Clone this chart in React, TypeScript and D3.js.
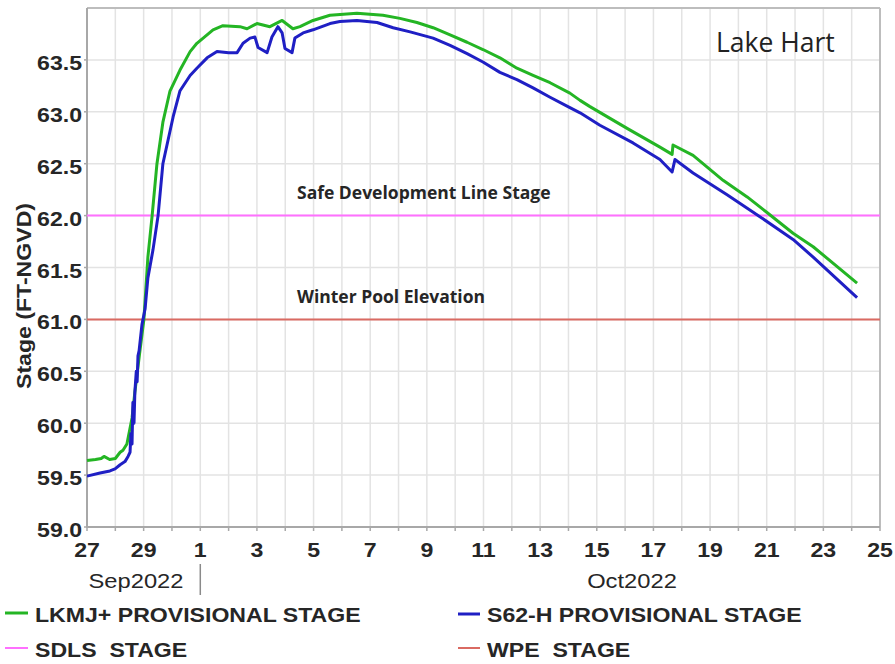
import React from "react";
import * as d3 from "d3";

// ---- Data (days since 2022-09-27 00:00, stage in FT-NGVD) ----
const lkmjDays = [0, 0.3, 0.5, 0.6, 0.8, 1.0, 1.17, 1.27, 1.41, 1.59, 1.69, 1.87, 2.01, 2.15, 2.3, 2.47, 2.68, 2.93, 3.28, 3.64, 3.88, 4.45, 4.8, 5.4, 5.65, 6.0, 6.46, 6.89, 7.27, 7.52, 7.98, 8.58, 9.53, 10.45, 11.05, 11.65, 12.22, 12.82, 13.42, 13.98, 14.58, 15.18, 15.75, 16.35, 17.05, 17.41, 17.76, 19.07, 20.23, 20.66, 20.69, 21.4, 22.46, 23.31, 24.01, 24.93, 25.64, 27.19];
const lkmjStage = [59.64, 59.65, 59.66, 59.68, 59.65, 59.66, 59.72, 59.74, 59.8, 60.05, 60.3, 60.7, 61.0, 61.6, 62.0, 62.5, 62.9, 63.2, 63.4, 63.58, 63.66, 63.79, 63.83, 63.82, 63.8, 63.85, 63.82, 63.88, 63.8, 63.82, 63.88, 63.93, 63.95, 63.93, 63.9, 63.86, 63.81, 63.74, 63.67, 63.6, 63.52, 63.42, 63.35, 63.28, 63.18, 63.11, 63.05, 62.84, 62.66, 62.59, 62.68, 62.58, 62.34, 62.18, 62.03, 61.83, 61.7, 61.35];

const s62Days = [0, 0.46, 0.81, 0.99, 1.17, 1.34, 1.45, 1.52, 1.55, 1.59, 1.62, 1.66, 1.69, 1.74, 1.77, 1.8, 1.84, 1.94, 2.05, 2.15, 2.33, 2.51, 2.68, 3.04, 3.28, 3.64, 3.88, 4.24, 4.59, 5.0, 5.3, 5.51, 5.76, 5.93, 6.04, 6.36, 6.53, 6.74, 6.89, 6.99, 7.24, 7.34, 7.63, 7.98, 8.58, 8.93, 9.53, 10.24, 10.81, 11.41, 12.22, 12.82, 13.42, 13.98, 14.58, 15.18, 15.75, 16.35, 17.05, 17.41, 18.11, 19.28, 20.23, 20.66, 20.76, 21.4, 22.6, 23.76, 24.93, 25.64, 27.19];
const s62Stage = [59.49, 59.52, 59.54, 59.56, 59.6, 59.63, 59.68, 59.72, 59.9, 59.8, 60.2, 60.0, 60.3, 60.5, 60.4, 60.65, 60.7, 60.95, 61.1, 61.4, 61.67, 62.0, 62.5, 62.95, 63.2, 63.35, 63.42, 63.52, 63.58, 63.57, 63.57, 63.66, 63.71, 63.72, 63.62, 63.57, 63.72, 63.82, 63.76, 63.61, 63.57, 63.71, 63.76, 63.79, 63.85, 63.87, 63.88, 63.86, 63.81, 63.77, 63.71, 63.64, 63.56, 63.48, 63.38, 63.31, 63.23, 63.14, 63.04, 62.99, 62.87, 62.7, 62.54, 62.42, 62.54, 62.41, 62.2, 61.99, 61.77, 61.6, 61.21];

const sdlsStage = 62.0;
const wpeStage = 61.0;
const yTickValues = [59.0, 59.5, 60.0, 60.5, 61.0, 61.5, 62.0, 62.5, 63.0, 63.5];
const legendLabels = ["LKMJ+ PROVISIONAL STAGE", "S62-H PROVISIONAL STAGE", "SDLS  STAGE", "WPE  STAGE"];

const T0 = new Date(2022, 8, 27);
const T1 = new Date(2022, 9, 25);
const toDate = (d: number) => d3.timeMinute.offset(T0, Math.round(d * 1440));

const W = 895, H = 664;
const L = 87, R = 880, TOP = 8, BOT = 527;

const GREEN = "#24b524";
const BLUE = "#1f1fc4";
const PINK = "#ff70ff";
const RED = "#da6a62";
const TXT = "#262626";
const FONT = "'Liberation Sans', Arial, sans-serif";

function T(props: { x: number; y: number; anchor?: string; size?: number; weight?: any; rotate?: number; children: any; fill?: string; family?: string; sx?: number }) {
  const { x, y, anchor = "start", size = 21, weight = "bold", rotate = 0, children, fill = TXT, family = FONT, sx = 1.1 } = props;
  return (
    <text
      transform={`translate(${x},${y})${rotate ? ` rotate(${rotate})` : ""} scale(${sx},1)`}
      textAnchor={anchor}
      fontSize={size}
      fontWeight={weight}
      fontFamily={family}
      fill={fill}
      style={{ whiteSpace: "pre" }}
    >
      {children}
    </text>
  );
}

export default function App() {
  const x = d3.scaleTime().domain([T0, T1]).range([L, R]);
  const y = d3.scaleLinear().domain([59, 64]).range([BOT, TOP]);

  const days = d3.timeDay.range(T0, d3.timeDay.offset(T1, 1));
  const labelDays = days.filter((_, i) => i % 2 === 0);

  const line = d3
    .line<[number, number]>()
    .x((p) => x(toDate(p[0])))
    .y((p) => y(p[1]));

  const lkmj = lkmjDays.map((d, i) => [d, lkmjStage[i]] as [number, number]);
  const s62 = s62Days.map((d, i) => [d, s62Stage[i]] as [number, number]);

  const gridY = d3.range(59, 64.001, 0.5);

  return (
    <svg width={W} height={H} style={{ position: "absolute", left: 0, top: 0, background: "#fff" }}>
      <rect x={0} y={0} width={W} height={H} fill="#fff" />
      {/* grid */}
      {days.map((d, i) => (
        <line key={"gx" + i} x1={x(d)} x2={x(d)} y1={TOP} y2={BOT} stroke="#e3e3e3" strokeWidth={1.5} />
      ))}
      {gridY.map((v, i) => (
        <line key={"gy" + i} x1={L} x2={R} y1={y(v)} y2={y(v)} stroke="#e3e3e3" strokeWidth={1.5} />
      ))}
      {/* frame */}
      <line x1={L} x2={R} y1={TOP} y2={TOP} stroke="#bdbdbd" strokeWidth={2} />
      <line x1={R} x2={R} y1={TOP} y2={BOT} stroke="#bdbdbd" strokeWidth={2} />
      <line x1={L} x2={L} y1={TOP} y2={BOT + 1} stroke="#a8a8a8" strokeWidth={2} />
      <line x1={L} x2={R} y1={BOT} y2={BOT} stroke="#a8a8a8" strokeWidth={2} />

      {/* reference lines */}
      <line x1={L} x2={R} y1={y(sdlsStage)} y2={y(sdlsStage)} stroke={PINK} strokeWidth={2} />
      <line x1={L} x2={R} y1={y(wpeStage)} y2={y(wpeStage)} stroke={RED} strokeWidth={2} />

      {/* series */}
      <path d={line(lkmj) || ""} fill="none" stroke={GREEN} strokeWidth={3} strokeLinejoin="round" />
      <path d={line(s62) || ""} fill="none" stroke={BLUE} strokeWidth={3} strokeLinejoin="round" />

      {/* y ticks */}
      {yTickValues.map((v, i) => (
        <g key={"yt" + i}>
          <line x1={L - 3} x2={L} y1={y(v)} y2={y(v)} stroke="#a8a8a8" strokeWidth={1.5} />
          <T x={82} y={y(v) + 10} anchor="end">{d3.format(".1f")(v)}</T>
        </g>
      ))}
      {/* x ticks */}
      {days.map((d, i) => (
        <line key={"xt" + i} x1={x(d)} x2={x(d)} y1={BOT} y2={BOT + 4} stroke="#a8a8a8" strokeWidth={1.5} />
      ))}
      {labelDays.map((d, i) => (
        <T key={"xl" + i} x={x(d)} y={557} anchor="middle">{d3.timeFormat("%-d")(d)}</T>
      ))}
      <T x={136} y={588} anchor="middle" weight="normal" sx={1.13}>Sep2022</T>
      <line x1={x(new Date(2022, 9, 1))} x2={x(new Date(2022, 9, 1))} y1={564} y2={595} stroke="#8a8a8a" strokeWidth={1.5} />
      <T x={632} y={588} anchor="middle" weight="normal" sx={1.13}>Oct2022</T>

      {/* y title */}
      <T x={31} y={296} anchor="middle" rotate={-90}>Stage (FT-NGVD)</T>

      {/* annotations */}
      <T x={297} y={199} size={17.5} weight={700} family="'Open Sans', sans-serif" sx={1}>Safe Development Line Stage</T>
      <T x={297} y={303} size={17.5} weight={700} family="'Open Sans', sans-serif" sx={1}>Winter Pool Elevation</T>
      <T x={716} y={52} size={26.5} weight="normal" family="'Open Sans', sans-serif" sx={1} fill="#222">Lake Hart</T>

      {/* legend */}
      <line x1={5} x2={28} y1={613} y2={613} stroke={GREEN} strokeWidth={3} />
      <T x={35} y={622}>{legendLabels[0]}</T>
      <line x1={458} x2={480} y1={614} y2={614} stroke={BLUE} strokeWidth={3} />
      <T x={487} y={622}>{legendLabels[1]}</T>
      <line x1={5} x2={28} y1={648} y2={648} stroke={PINK} strokeWidth={2} />
      <T x={35} y={657}>{legendLabels[2]}</T>
      <line x1={458} x2={480} y1={648} y2={648} stroke={RED} strokeWidth={2} />
      <T x={487} y={657}>{legendLabels[3]}</T>
    </svg>
  );
}
